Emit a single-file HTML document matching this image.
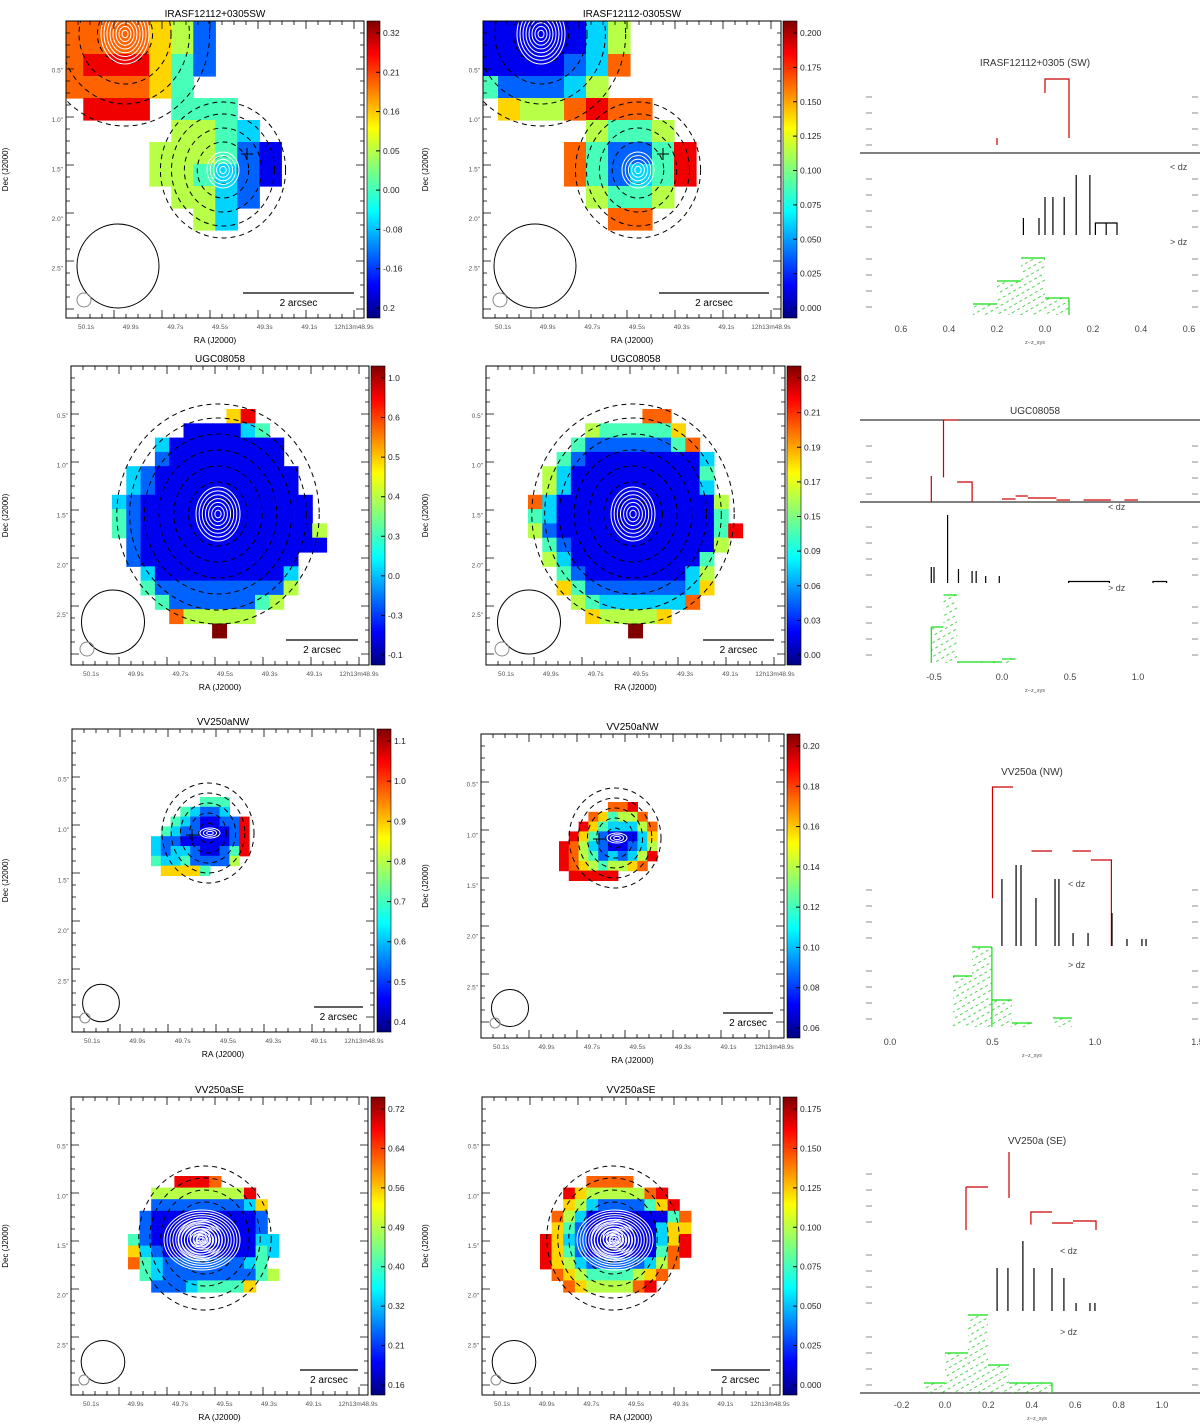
<!DOCTYPE html>
<html><head><meta charset="utf-8">
<style>
html,body{margin:0;padding:0;background:#fff;}
svg{display:block;font-family:"Liberation Sans",sans-serif;}
</style></head>
<body>
<svg id="fig" width="1200" height="1426" viewBox="0 0 1200 1426" xmlns="http://www.w3.org/2000/svg">
<defs>
<linearGradient id="jetv" x1="0" y1="1" x2="0" y2="0">
<stop offset="0" stop-color="#00007f"/><stop offset="0.11" stop-color="#0000ff"/><stop offset="0.36" stop-color="#00ffff"/><stop offset="0.5" stop-color="#7fff7f"/><stop offset="0.64" stop-color="#ffff00"/><stop offset="0.89" stop-color="#ff0000"/><stop offset="1" stop-color="#7f0000"/>
</linearGradient>
<pattern id="hatch" width="6" height="6" patternUnits="userSpaceOnUse" patternTransform="rotate(-30)">
<line x1="0" y1="3" x2="3" y2="3" stroke="#22cc22" stroke-width="0.8"/>
</pattern>
</defs>
</svg>
<script>
// ---------- map data (jet index 0-9, '.' = empty) ----------
const gridA1=["7777652...","7777652...","7888642...","777764....",".888.444..",".....5543.","....555421","....554321",".....5532.","......53.."];
const gridA2=["1111135...","1111135...","1111237...","422235....",".6557877..",".....5445.","....742248","....742348",".....5445.","......77.."];
const gridB1=["........68.....",".....111134....","...311111111...","...211111111...",".321111111111..",".321111111111..","32111111111111.","42111111111111.","421111111111115",".21111111111111.".slice(0,15),".211111111111..","..31111111113..","..42222222225..","...422222245...","....755555.....",".......9......."];
const gridB2=["........77.....","....5444446....","...42222224 7...".replace(' ','').slice(0,15),"..42111111113...".slice(0,15),".531111111114..",".531111111113..","73111111111115.","43111111111114.","521111111111148",".4211111111115.",".531111111114..","..4211111113 5..".replace(' ','').slice(0,15),"..64222222236..","...54333333 7...".replace(' ','').slice(0,15),"....655556.....",".......9......."];
const gridC1=[".....444..","...43223..","..43211228",".432211128","3221111128","3233211248","433422225.",".66664...."];
const gridC2=[".....778..","...764557.","..86433357",".864211136","8753211235","8754232358","876545567.",".88888...."];
const gridD1=["....8887.....","..555555558..","..2222222236.".slice(0,13),".21111111112.",".21111111112.","4211111111133","6321111111143","7432222222340".slice(0,12)+".",".432222222245.".slice(0,13),"..222344446.."];
const gridD2=["....7777.....","..865555578..","..6532222468.",".753111111147.".slice(0,13),".642111111366.".slice(0,13),"8632111111368","8642111111478","865322222357.",".7654444567..","..76555578..."];

// colorbar tick labels
const cbA1=["0.32","0.21","0.16","0.05","0.00","-0.08","-0.16","0.2"];
const cbA2=["0.200","0.175","0.150","0.125","0.100","0.075","0.050","0.025","0.000"];
const cbB1=["1.0","0.6","0.5","0.4","0.3","0.0","-0.3","-0.1"];
const cbB2=["0.2","0.21","0.19","0.17","0.15","0.09","0.06","0.03","0.00"];
const cbC1=["1.1","1.0","0.9","0.8","0.7","0.6","0.5","0.4"];
const cbC2=["0.20","0.18","0.16","0.14","0.12","0.10","0.08","0.06"];
const cbD1=["0.72","0.64","0.56","0.49","0.40","0.32","0.21","0.16"];
const cbD2=["0.175","0.150","0.125","0.100","0.075","0.050","0.025","0.000"];

// ---------- histogram data (x in z units, y in counts) ----------
const h1RedX=[[0,0,0.1,0.1],[-0.2,-0.2]];
const h1RedY=[[60,74,74,15],[8,15]];
const h1BlackX=[-0.09,-0.025,0,0.033,0.08,0.13,0.187,0.255];
const h1BlackH=[17,17,38,38,38,60,60,12];
const h1GreenEdges=[-0.3,-0.2,-0.1,0,0.1];
const h1GreenCounts=[11,34,57,17];
const h1Ticks=["0.6","0.4","0.2","0.0","0.2","0.4","0.6"];
const h1TickVals=[-0.6,-0.4,-0.2,0,0.2,0.4,0.6];

const h2RedEdges=[-0.43,-0.33,-0.22];
const h2RedCounts=[82,20];
const h2RedSmallEdges=[0,0.1,0.19,0.4,0.5,0.6,0.8,0.9,1.0];
const h2RedSmallCounts=[3,6,4,2,0,2,0,2];
const h2BlackX=[-0.52,-0.5,-0.4,-0.32,-0.22,-0.19,-0.12,-0.02];
const h2BlackH=[16,16,68,14,12,12,7,7];
const h2GreenEdges=[-0.52,-0.43,-0.33,0.0,0.1];
const h2GreenCounts=[36,68,1,4];
const h2Ticks=["-0.5","0.0","0.5","1.0"];
const h2TickVals=[-0.5,0,0.5,1.0];

const h3RedEdges=[0.5,0.6,0.69,0.79,0.89,0.98,1.08];
const h3RedCounts=[159,0,95,0,95,86];
const h3BlackX=[0.546,0.615,0.639,0.712,0.805,0.824,0.893,0.966,1.083,1.156,1.229,1.249];
const h3BlackH=[67,81,81,48,67,67,13,13,33,7,7,7];
const h3GreenEdges=[0.307,0.40,0.497,0.595,0.693,0.795,0.888];
const h3GreenCounts=[51,80,27,4,0,9];
const h3Ticks=["0.0","0.5","1.0","1.5"];
const h3TickVals=[0,0.5,1.0,1.5];

const h4RedEdges=[0.396,0.493,0.59,0.696];
const h4RedCounts=[18,7,9];
const h4BlackX=[0.240,0.290,0.359,0.410,0.493,0.548,0.604,0.668,0.691];
const h4BlackH=[43,43,70,43,43,33,8,8,8];
const h4GreenEdges=[-0.097,0,0.106,0.198,0.295,0.493];
const h4GreenCounts=[10,40,78,28,10];
const h4Ticks=["-0.2","0.0","0.2","0.4","0.6","0.8","1.0"];
const h4TickVals=[-0.2,0,0.2,0.4,0.6,0.8,1.0];

// ---------- helpers ----------
const NS='http://www.w3.org/2000/svg';
const svg=document.getElementById('fig');
function mk(tag,parent){const e=document.createElementNS(NS,tag);(parent||svg).appendChild(e);return e;}
function jet(d){const t=d/9;const c=v=>Math.round(255*Math.max(0,Math.min(1,v)));
 return 'rgb('+c(1.5-Math.abs(4*t-3))+','+c(1.5-Math.abs(4*t-2))+','+c(1.5-Math.abs(4*t-1))+')';}
function txt(x,y,s,size,anchor,fill,parent){const t=mk('text',parent);t.setAttribute('x',x);t.setAttribute('y',y);t.setAttribute('font-size',size);t.setAttribute('text-anchor',anchor||'start');t.setAttribute('fill',fill||'#000');t.textContent=s;return t;}

const maps=[
 {id:'a1',grid:gridA1,cb:cbA1,p:[66,21,364,318],cbx:[367,380],gx:61.3,gy:10,cell:22,title:'IRASF12112+0305SW',ylab:8,
  srcs:[[125,34],[223,170]],dash:[[223,170,[14,28,42,56,68]],[125,34,[30,50,70,92]]],wr:[[125,34,24,30],[223,170,16,18]],
  plus:[247,154],beam:[118,266,41,42],small:[84,300,7],bar:[243,354,293]},
 {id:'a2',grid:gridA2,cb:cbA2,p:[483,21,781,318],cbx:[783,797],gx:476,gy:10,cell:22,title:'IRASF12112-0305SW',ylab:428,
  srcs:[],dash:[[638,170,[14,28,42,56,68]],[541,34,[30,50,70,92]]],wr:[[541,34,24,30],[638,170,16,18]],
  plus:[663,154],beam:[535,266,41,42],small:[500,300,7],bar:[659,769,293]},
 {id:'b1',grid:gridB1,cb:cbB1,p:[71,366,369,665],cbx:[371,385],gx:112,gy:409,cell:14.3,title:'UGC08058',ylab:8,
  dash:[[218,514,[16,32,48,64,80,96,110]]],wr:[[218,514,22,27]],beam:[113,622,31.5,32],small:[87,649,7],bar:[286,358,640]},
 {id:'b2',grid:gridB2,cb:cbB2,p:[486,366,785,665],cbx:[787,801],gx:528,gy:409,cell:14.3,title:'UGC08058',ylab:428,
  dash:[[633,514,[16,32,48,64,80,96,110]]],wr:[[633,514,22,27]],beam:[529,622,31.5,32],small:[502,649,7],bar:[703,774,640]},
 {id:'c1',grid:gridC1,cb:cbC1,p:[72,729,374,1032],cbx:[377,391],gx:151,gy:797,cell:9.8,title:'VV250aNW',ylab:8,
  dash:[[208,833,[10,20,30,40,50]]],wr:[[210,833,10,5]],plus:[192,835],beam:[101,1003,18.4,18.7],small:[85,1018,5],bar:[314,363,1007]},
 {id:'c2',grid:gridC2,cb:cbC2,p:[481,734,784,1038],cbx:[787,800],gx:559,gy:802,cell:9.8,title:'VV250aNW',ylab:428,
  dash:[[615,838,[10,20,30,40,50]]],wr:[[617,838,10,5]],plus:[599,839],beam:[510,1008,18.5,18.5],small:[495,1023,5],bar:[723,773,1013]},
 {id:'d1',grid:gridD1,cb:cbD1,p:[71,1097,368,1395],cbx:[371,385],gx:128,gy:1176,cell:11.6,title:'VV250aSE',ylab:8,
  dash:[[205,1238,[12,24,36,48,60,72]]],wr:[[200,1238,10,9],[200,1240,22,20],[202,1240,38,30]],beam:[103,1362,21.8,21.5],small:[84,1380,5],bar:[300,358,1370]},
 {id:'d2',grid:gridD2,cb:cbD2,p:[482,1097,780,1395],cbx:[783,797],gx:540,gy:1176,cell:11.6,title:'VV250aSE',ylab:428,
  dash:[[613,1238,[12,24,36,48,60,72]]],wr:[[613,1238,10,9],[613,1240,22,20],[615,1240,38,30]],beam:[514,1362,21.8,21.5],small:[496,1380,5],bar:[711,770,1370]}
];

maps.forEach(m=>{
 const [x1,y1,x2,y2]=m.p;
 const g=mk('g');
 const cp=mk('clipPath',g);cp.setAttribute('id','clip-'+m.id);
 const cr=mk('rect',cp);cr.setAttribute('x',x1);cr.setAttribute('y',y1);cr.setAttribute('width',x2-x1);cr.setAttribute('height',y2-y1);
 const inner=mk('g',g);inner.setAttribute('clip-path','url(#clip-'+m.id+')');
 // cells
 m.grid.forEach((row,r)=>{for(let c=0;c<row.length;c++){const ch=row[c];if(ch<'0'||ch>'9')continue;
  const rc=mk('rect',inner);
  
  
  rc.setAttribute('x',(m.gx+c*m.cell).toFixed(1));rc.setAttribute('y',(m.gy+r*m.cell).toFixed(1));
  rc.setAttribute('width',m.cell+0.6);rc.setAttribute('height',m.cell+0.6);rc.setAttribute('fill',jet(+ch));}});
 // dashed contours
 m.dash.forEach(d=>{d[2].forEach(rr=>{const e=mk('ellipse',inner);
  
  
  e.setAttribute('cx',d[0]);e.setAttribute('cy',d[1]);e.setAttribute('rx',rr*0.92);e.setAttribute('ry',rr);
  e.setAttribute('fill','none');e.setAttribute('stroke','#000');e.setAttribute('stroke-width','1');e.setAttribute('stroke-dasharray','5 4');});});
 // white contours
 m.wr.forEach(w=>{const n=Math.max(3,Math.round(w[2]/3));for(let k=1;k<=n;k++){const e=mk('ellipse',inner);
  
  
  e.setAttribute('cx',w[0]);e.setAttribute('cy',w[1]);e.setAttribute('rx',w[2]*k/n);e.setAttribute('ry',w[3]*k/n);
  e.setAttribute('fill','none');e.setAttribute('stroke','#fff');e.setAttribute('stroke-width','1');}});
 if(m.plus){const p=mk('path',inner);
  p.setAttribute('d','M'+(m.plus[0]-6)+' '+m.plus[1]+'h12M'+m.plus[0]+' '+(m.plus[1]-6)+'v12');p.setAttribute('stroke','#000');}
 // beam
 const b=mk('ellipse',g);
 b.setAttribute('cx',m.beam[0]);b.setAttribute('cy',m.beam[1]);b.setAttribute('rx',m.beam[2]);b.setAttribute('ry',m.beam[3]);b.setAttribute('fill','none');b.setAttribute('stroke','#000');
 const s=mk('circle',g);
 s.setAttribute('cx',m.small[0]);s.setAttribute('cy',m.small[1]);s.setAttribute('r',m.small[2]);s.setAttribute('fill','none');s.setAttribute('stroke','#888');
 // scale bar
 const sb=mk('line',g);
 sb.setAttribute('x1',m.bar[0]);sb.setAttribute('x2',m.bar[1]);sb.setAttribute('y1',m.bar[2]);sb.setAttribute('y2',m.bar[2]);sb.setAttribute('stroke','#000');sb.setAttribute('stroke-width','1.3');
 const st=txt((m.bar[0]+m.bar[1])/2,m.bar[2]+13,'2 arcsec',10,'middle','#000',g);
 
 // frame & ticks
 const fr=mk('rect',g);
 fr.setAttribute('x',x1);fr.setAttribute('y',y1);fr.setAttribute('width',x2-x1);fr.setAttribute('height',y2-y1);fr.setAttribute('fill','none');fr.setAttribute('stroke','#000');
 let d='';
 for(let x=x1+12;x<x2-4;x+=12){const L=((x-x1)/12)%4===0?8:4;d+='M'+x+' '+y2+'v-'+L+'M'+x+' '+y1+'v'+L;}
 for(let y=y1+12;y<y2-4;y+=12){const L=((y-y1)/12)%4===0?8:4;d+='M'+x1+' '+y+'h'+L+'M'+x2+' '+y+'h-'+L;}
 const tk=mk('path',g);tk.setAttribute('d',d);tk.setAttribute('stroke','#000');tk.setAttribute('stroke-width','0.8');
 // tick labels
 for(let i=0;i<7;i++){const xx=x1+20+i*(x2-x1-30)/6;const t=txt(xx,y2+11,['50.1s','49.9s','49.7s','49.5s','49.3s','49.1s','12h13m48.9s'][i],6.5,'middle','#555',g);
  }
 for(let i=1;i<=5;i++){const yy=y1+i*(y2-y1)/6;const t=txt(x1-3,yy+2,(i*0.5).toFixed(1)+'"',6.5,'end','#555',g);
  }
 const tt=txt((x1+x2)/2,y1-4,m.title,10,'middle','#000',g);
 const xl=txt((x1+x2)/2,y2+25,'RA (J2000)',8.5,'middle','#000',g);
 const yl=txt(0,0,'Dec (J2000)',8,'middle','#000',g);yl.setAttribute('transform','translate('+m.ylab+','+((y1+y2)/2)+') rotate(-90)');
 
 // colorbar
 const cb=mk('rect',g);
 cb.setAttribute('x',m.cbx[0]);cb.setAttribute('y',y1);cb.setAttribute('width',m.cbx[1]-m.cbx[0]);cb.setAttribute('height',y2-y1);cb.setAttribute('fill','url(#jetv)');cb.setAttribute('stroke','#000');cb.setAttribute('stroke-width','0.6');
 const n=m.cb.length;
 m.cb.forEach((lab,i)=>{const yy=y1+12+i*(y2-y1-22)/(n-1);
  const tl=mk('line',g);tl.setAttribute('x1',m.cbx[1]-4);tl.setAttribute('x2',m.cbx[1]);tl.setAttribute('y1',yy);tl.setAttribute('y2',yy);tl.setAttribute('stroke','#000');
  const t=txt(m.cbx[1]+3,yy+3,lab,8.5,'start','#222',g);});
});

// ---------- histograms ----------
function hist(cfg){
 const g=mk('g');
 const X=v=>cfg.x0+v*cfg.xu;
 const t=txt(cfg.tx,cfg.ty,cfg.title,10,'middle','#333',g);
 function Y(base,c){return base-c*cfg.yu;}
 function poly(pts,color,name,fill){const p=mk(fill?'polygon':'polyline',g);
  
  
  p.setAttribute('points',pts.map(q=>q[0].toFixed(1)+','+q[1].toFixed(1)).join(' '));
  p.setAttribute('fill',fill||'none');p.setAttribute('stroke',color);p.setAttribute('stroke-width','1.2');return p;}
 function steps(edges,counts,base){const pts=[[X(edges[0]),base]];for(let i=0;i<counts.length;i++){pts.push([X(edges[i]),Y(base,counts[i])]);pts.push([X(edges[i+1]),Y(base,counts[i])]);}pts.push([X(edges[edges.length-1]),base]);return pts;}
 // axis lines
 cfg.hlines.forEach(y=>{const l=mk('line',g);
  l.setAttribute('x1',860);l.setAttribute('x2',1200);l.setAttribute('y1',y);l.setAttribute('y2',y);l.setAttribute('stroke','#000');});
 // side ticks
 let d='';[cfg.redBase,cfg.blackBase,cfg.greenBase].forEach(b=>{for(let k=0;k<4;k++){const y=b-8-k*16;d+='M866 '+y+'h6M1192 '+y+'h6';}});
 const tk=mk('path',g);tk.setAttribute('d',d);tk.setAttribute('stroke','#666');tk.setAttribute('stroke-width','0.8');
 // red
 if(cfg.redX){cfg.redX.forEach((xs,i)=>poly(xs.map((v,j)=>[X(v),Y(cfg.redBase,cfg.redY[i][j])]),'#cc0000','red-histogram'));}
 if(cfg.redEdges){const e=cfg.redEdges,c=cfg.redCounts;for(let i=0;i<c.length;i++){if(!c[i])continue;
  const pts=[[X(e[i]),Y(cfg.redBase,c[i])],[X(e[i+1]),Y(cfg.redBase,c[i])]];if(i===c.length-1)pts.push([X(e[i+1]),cfg.redBase]);if(i===0)pts.unshift([X(e[i]),Y(cfg.redBase,c[i]*0.3)]);
  poly(pts,'#cc0000','red-histogram-bin');}}
 if(cfg.redSmallEdges){const e=cfg.redSmallEdges,c=cfg.redSmallCounts;for(let i=0;i<c.length;i++){if(!c[i])continue;poly([[X(e[i]),Y(cfg.redBase,c[i])],[X(e[i+1]),Y(cfg.redBase,c[i])]],'#cc0000','red-histogram-bin');}}
 if(cfg.redVert){cfg.redVert.forEach(v=>poly([[X(v[0]),Y(cfg.redBase,v[1])],[X(v[0]),Y(cfg.redBase,v[2])]],'#cc0000','red-histogram-edge'));}
 // black
 cfg.blackX.forEach((v,i)=>{const l=mk('line',g);
  l.setAttribute('x1',X(v));l.setAttribute('x2',X(v));l.setAttribute('y1',cfg.blackBase);l.setAttribute('y2',Y(cfg.blackBase,cfg.blackH[i]));l.setAttribute('stroke','#000');l.setAttribute('stroke-width','1.2');});
 if(cfg.blackSteps){cfg.blackSteps.forEach(s=>poly([[X(s[0]),cfg.blackBase],[X(s[0]),Y(cfg.blackBase,s[2])],[X(s[1]),Y(cfg.blackBase,s[2])],[X(s[1]),cfg.blackBase]],'#000','black-histogram-step'));}
 // green
 const gp=steps(cfg.greenEdges,cfg.greenCounts,cfg.greenBase);
 const hp=poly(gp,'none','green-hatch-fill','url(#hatch)');hp.setAttribute('stroke','none');
 for(let i=0;i<cfg.greenCounts.length;i++){if(!cfg.greenCounts[i])continue;poly([[X(cfg.greenEdges[i]),Y(cfg.greenBase,cfg.greenCounts[i])],[X(cfg.greenEdges[i+1]),Y(cfg.greenBase,cfg.greenCounts[i])]],'#11dd11','green-histogram-bin');}
 poly([[X(cfg.greenEdges[cfg.greenVert]),cfg.greenBase],[X(cfg.greenEdges[cfg.greenVert]),Y(cfg.greenBase,cfg.greenCounts[cfg.greenVert>0?cfg.greenVert-1:0])]],'#11dd11','green-histogram-edge');
 // labels
 cfg.ticks.forEach((s,i)=>{const tx=txt(X(cfg.tickVals[i]),cfg.tickY,s,9,'middle','#444',g);});
 const xl=txt(cfg.tx,cfg.tickY+12,'z−z_sys',5.5,'middle','#555',g);
 cfg.dz.forEach(p=>{const q=txt(p[0],p[1],p[2],9,'start','#444',g);});
}
hist({id:'irasf',title:'IRASF12112+0305 (SW)',tx:1035,ty:66,x0:1045,xu:240,yu:1,redBase:153,blackBase:235,greenBase:315,hlines:[153],
 redX:h1RedX,redY:h1RedY,blackX:h1BlackX,blackH:h1BlackH,blackSteps:[[0.21,0.30,12]],greenEdges:h1GreenEdges,greenCounts:h1GreenCounts,greenVert:4,
 ticks:h1Ticks,tickVals:h1TickVals,tickY:332,dz:[[1170,170,'< dz'],[1170,245,'> dz']]});
hist({id:'ugc',title:'UGC08058',tx:1035,ty:414,x0:1002,xu:136,yu:1,redBase:502,blackBase:583,greenBase:663,hlines:[420,502],
 redEdges:h2RedEdges,redCounts:h2RedCounts,redSmallEdges:h2RedSmallEdges,redSmallCounts:h2RedSmallCounts,redVert:[[-0.52,0,26]],
 blackX:h2BlackX,blackH:h2BlackH,blackSteps:[[0.49,0.79,1.5],[1.11,1.21,1.5]],greenEdges:h2GreenEdges,greenCounts:h2GreenCounts,greenVert:0,
 ticks:h2Ticks,tickVals:h2TickVals,tickY:680,dz:[[1108,510,'< dz'],[1108,591,'> dz']]});
hist({id:'vv250nw',title:'VV250a (NW)',tx:1032,ty:775,x0:890,xu:205,yu:1,redBase:946,blackBase:946,greenBase:1027,hlines:[],
 redEdges:h3RedEdges,redCounts:h3RedCounts,blackX:h3BlackX,blackH:h3BlackH,greenEdges:h3GreenEdges,greenCounts:h3GreenCounts,greenVert:2,
 ticks:h3Ticks,tickVals:h3TickVals,tickY:1045,dz:[[1068,887,'< dz'],[1068,968,'> dz']]});
hist({id:'vv250se',title:'VV250a (SE)',tx:1037,ty:1144,x0:945,xu:217,yu:1,redBase:1230,blackBase:1311,greenBase:1393,hlines:[1393],
 redEdges:h4RedEdges,redCounts:h4RedCounts,redVert:[[0.097,0,43],[0.097,43,43],[0.295,32,78]],
 blackX:h4BlackX,blackH:h4BlackH,greenEdges:h4GreenEdges,greenCounts:h4GreenCounts,greenVert:5,
 ticks:h4Ticks,tickVals:h4TickVals,tickY:1408,dz:[[1060,1254,'< dz'],[1060,1335,'> dz']]});
// red flat segment for SE histogram left block
(function(){const l=mk('line');
 l.setAttribute('x1',945+0.097*217);l.setAttribute('x2',945+0.198*217);l.setAttribute('y1',1187);l.setAttribute('y2',1187);l.setAttribute('stroke','#cc0000');l.setAttribute('stroke-width','1.2');})();
</script>
</body></html>
